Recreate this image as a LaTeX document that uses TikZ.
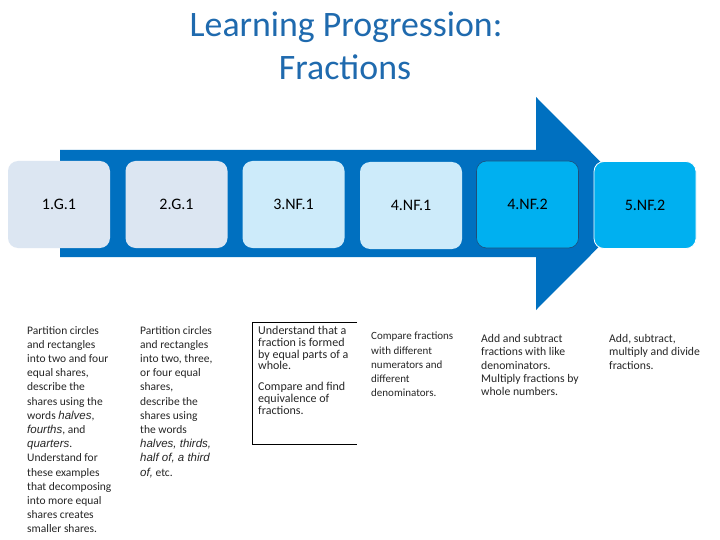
\documentclass[tikz,border=0pt]{standalone}
\usepackage{fontspec}
\setmainfont{Carlito}
\newfontfamily\arfont{Liberation Sans}
\definecolor{arrowblue}{HTML}{0070C0}
\definecolor{paleblue}{HTML}{DCE6F2}
\definecolor{palecyan}{HTML}{CDEBFA}
\definecolor{brightcyan}{HTML}{00B0F0}
\definecolor{titleblue}{HTML}{1F6AAE}
\definecolor{darkedge}{HTML}{1F4E79}
\newcommand{\emw}[1]{{\arfont\itshape #1}}
\begin{document}
\begin{tikzpicture}[x=1pt,y=-1pt,
  stdbox/.style={rounded corners=10pt, minimum width=102pt, minimum height=87pt, inner sep=0pt, font=\fontsize{16}{18}\selectfont, text=black},
  body/.style={anchor=north west, align=left, inner sep=0pt, font=\fontsize{11.5}{14.2}\selectfont, text=black!85}]
\useasboundingbox (0,0) rectangle (720,540);
\fill[white] (0,0) rectangle (720,540);
% title
\node[font=\fontsize{35.8}{43}\selectfont, text=titleblue, anchor=base] (t1) at (346,37) {Learning Progression:};
\node[font=\fontsize{35.8}{43}\selectfont, text=titleblue, anchor=base] (t2) at (345,80) {Fractions};
% arrow
\fill[arrowblue] (60,150) -- (536,150) -- (536,97) -- (642,203.5) -- (536,310) -- (536,257) -- (60,257) -- cycle;
% boxes
\node[stdbox, fill=paleblue] (b1) at (59,204.5) {1.G.1};
\node[stdbox, fill=paleblue] (b2) at (176.5,204.5) {2.G.1};
\node[stdbox, fill=palecyan] (b3) at (293.5,204.5) {3.NF.1};
\node[stdbox, fill=palecyan] (b4) at (411,205.5) {4.NF.1};
\node[stdbox, fill=brightcyan, draw=darkedge, line width=0.6pt] (b5) at (527.5,204.5) {4.NF.2};
\node[stdbox, fill=brightcyan, draw=white, line width=0.8pt] (b6) at (645,205) {5.NF.2};
% descriptions
\node[body] (d1) at (27,326) {Partition circles\\and rectangles\\into two and four\\equal shares,\\describe the\\shares using the\\words \emw{halves},\\\emw{fourths}, and\\\emw{quarters}.\\Understand for\\these examples\\that decomposing\\into more equal\\shares creates\\smaller shares.};
\node[body] (d2) at (140,326) {Partition circles\\and rectangles\\into two, three,\\or four equal\\shares,\\describe the\\shares using\\the words\\\emw{halves, thirds,}\\\emw{half of, a third}\\\emw{of,} etc.};
\node[body, font=\fontsize{12}{11.8}\selectfont] (d3) at (258,326) {Understand that a\\fraction is formed\\by equal parts of a\\whole.\\[9pt]Compare and find\\equivalence of\\fractions.};
\coordinate (c1) at (357,322);
\coordinate (c2) at (252,322);
\coordinate (c3) at (252,444);
\coordinate (c4) at (357,444);
\draw[black, line width=0.8pt] (c1) -- (c2) -- (c3) -- (c4);
\node[body, font=\fontsize{11}{14.2}\selectfont] (d4) at (371,332) {Compare fractions\\with different\\numerators and\\different\\denominators.};
\node[body, font=\fontsize{11.7}{13.4}\selectfont] (d5) at (481,334) {Add and subtract\\fractions with like\\denominators.\\Multiply fractions by\\whole numbers.};
\node[body, font=\fontsize{11.7}{13.4}\selectfont] (d6) at (609,334) {Add, subtract,\\multiply and divide\\fractions.};
\end{tikzpicture}
\end{document}
